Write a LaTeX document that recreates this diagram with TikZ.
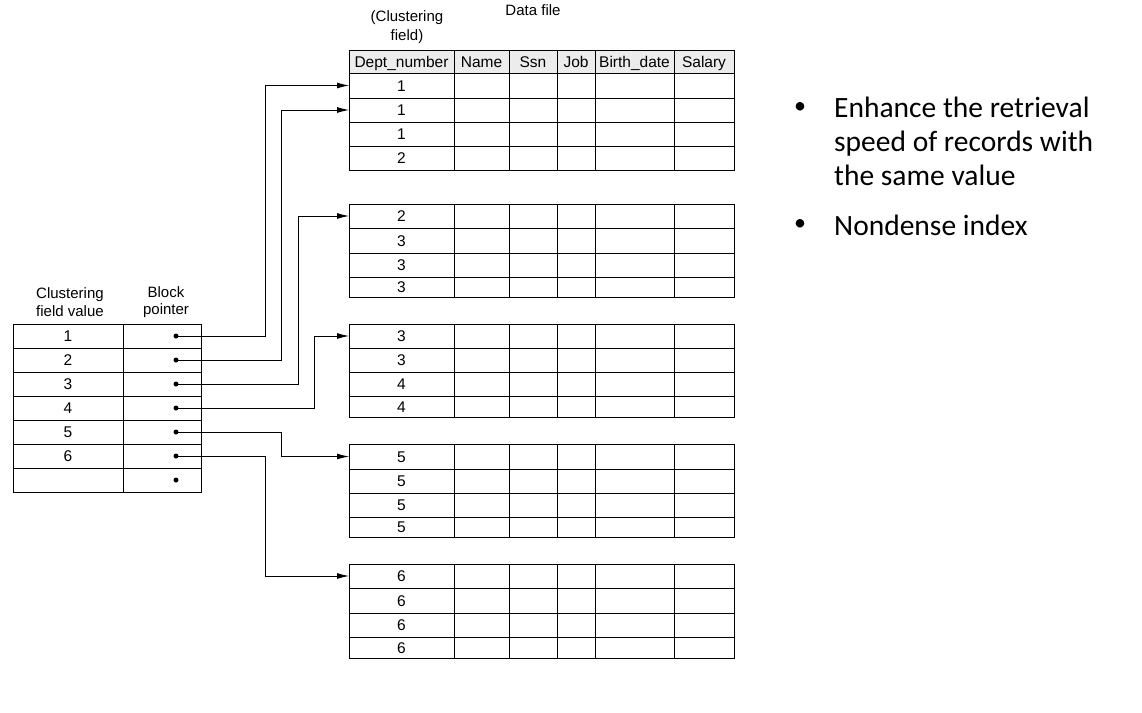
\documentclass[tikz,border=0pt]{standalone}
\usepackage{fontspec}
\setmainfont{Liberation Sans}
\newfontfamily\slidefont{Carlito}
\usetikzlibrary{positioning,arrows.meta,calc}

\begin{document}
\begin{tikzpicture}[
						x=1pt, y=-1pt,
						every node/.style={font=\fontsize{15.5}{18}\selectfont},
						% o cua bang
						cell/.style={
							draw=black, line width=1pt, inner sep=0pt, outer sep=0pt,
							minimum height=24pt, text height=12pt, text depth=1pt
						},
						valcell/.style={cell, minimum width=110pt},
						ptrcell/.style={cell, minimum width=78pt},
						headcell/.style={cell, fill=gray!15, minimum height=23pt},
						% con tro
						dot/.style={circle, fill=black, inner sep=0pt, minimum size=5pt},
						ptr/.style={-{Latex[length=12pt,width=6pt]}, line width=0.9pt},
						headtext/.style={align=center, inner sep=0pt},
						slidetext/.style={
							font=\slidefont\fontsize{29.5}{34}\selectfont,
							anchor=base west, align=left, inner sep=0pt
						},
						bulletmark/.style={font=\slidefont\fontsize{24}{24}\selectfont, inner sep=0pt}
						]
						\useasboundingbox (0,0) rectangle (1142,712);
						
						% Data file: hang tieu de
						\foreach \xa/\xb/\txt [count=\c] in {349/454/Dept\_number, 454/509/Name, 509/557/Ssn,
							557/595/Job, 595/674/Birth\_date, 674/734/Salary}
						\node[headcell, minimum width={(\xb-\xa)*1pt}, anchor=north west] (h\c) at (\xa,50) {\txt};
						
						% Data file: cac khoi
						\foreach \blk/\rows in {
							1/{73/98/1,98/122/1,122/146/1,146/170/2},
							2/{204/228/2,228/253/3,253/277/3,277/297/3},
							3/{324/348/3,348/372/3,372/396/4,396/417/4},
							4/{444/469/5,469/493/5,493/517/5,517/537/5},
							5/{564/588/6,588/613/6,613/637/6,637/658/6}} {
							\foreach \t/\b/\v [count=\r] in \rows {
								\node[cell, minimum width=105pt, minimum height={(\b-\t)*1pt}, anchor=north west]
								(d\blk-\r) at (349,\t) {\v};
								\foreach \xa/\xb in {454/509,509/557,557/595,595/674,674/734}
								\draw[line width=1pt] (\xa,\t) rectangle (\xb,\b);
							}
						}
						
						% Chi muc
						\foreach \v [count=\i] in {1,2,3,4,5,6,{}} {
							\node[valcell, anchor=north west] (v\i) at (13,{324+(\i-1)*24}) {\v};
							\node[ptrcell, anchor=north west] (c\i) at (123,{324+(\i-1)*24}) {};
							\node[dot] (p\i) at (176,{336+(\i-1)*24}) {};
						}
						
						% Nhan
						\node[headtext, font=\fontsize{15}{17.5}\selectfont] (valhead) at (70,302) {Clustering\\field value};
						\node[headtext, font=\fontsize{15}{17.5}\selectfont] (ptrhead) at (166,302) {Block\\pointer};
						\node[headtext, font=\fontsize{15}{19}\selectfont] (clfield) at (407,27) {(Clustering\\field)};
						\node[headtext, font=\fontsize{15}{18}\selectfont] (datafile) at (533,10) {Data file};
						
						% Mui ten con tro khoi
						\draw[ptr] (p1.center) -- ++(89,0) |- (d1-1.west);
						\draw[ptr] (p2.center) -- ++(105,0) |- (d1-2.west);
						\draw[ptr] (p3.center) -- ++(122,0) |- (d2-1.west);
						\draw[ptr] (p4.center) -- ++(138,0) |- (d3-1.west);
						\draw[ptr] (p5.center) -- ++(105,0) |- (d4-1.west);
						\draw[ptr] (p6.center) -- ++(89,0) |- (d5-1.west);
						
						% Ghi chu ben phai
						\node[bulletmark] (bul1) at (800,108) {•};
						\node[slidetext] (note1) at (834,185) {Enhance the retrieval\\speed of records with\\the same value};
						\node[bulletmark] (bul2) at (800,225) {•};
						\node[slidetext] (note2) at (834,235) {Nondense index};
						
					\end{tikzpicture}
\end{document}
